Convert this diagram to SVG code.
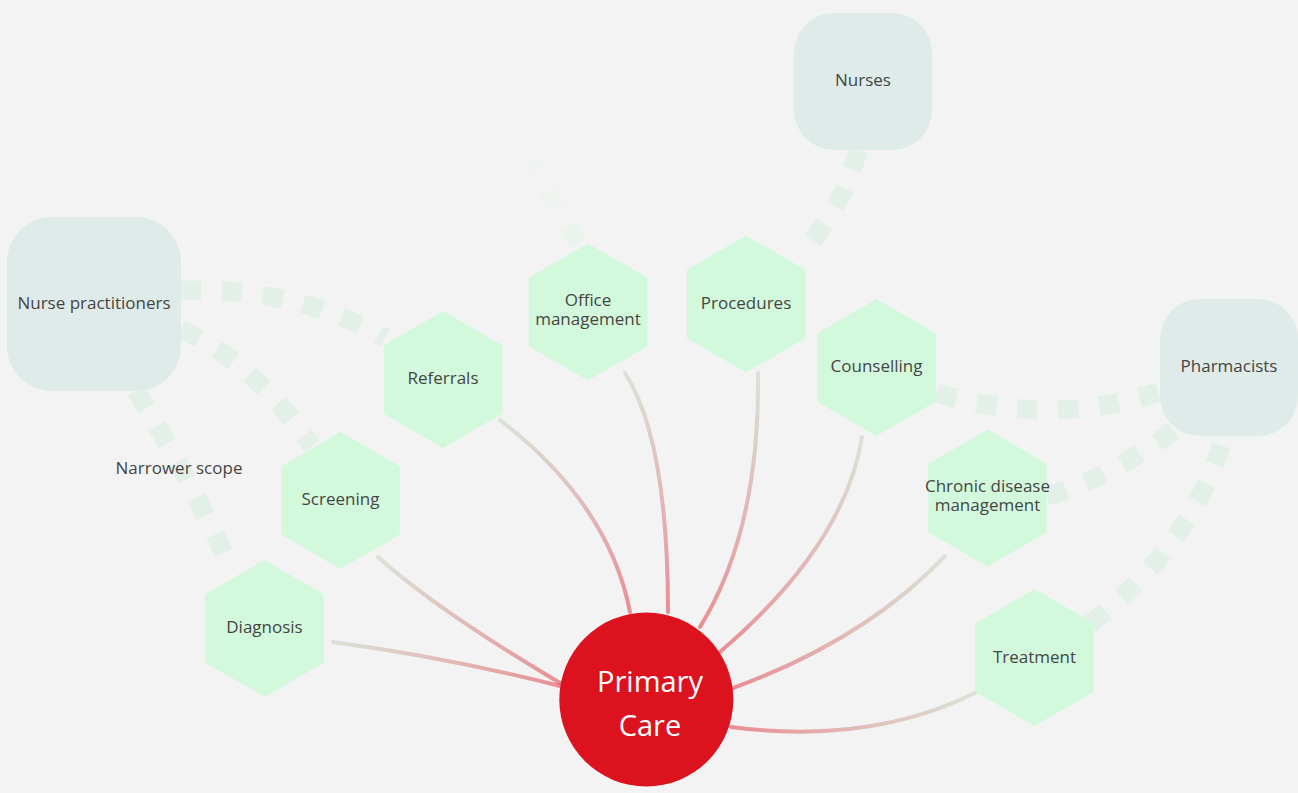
<svg xmlns="http://www.w3.org/2000/svg" width="1298" height="793" viewBox="0 0 1298 793">
<style>
.bg{fill:#f3f3f3}
.hex{fill:#d3f9dc}
.box{fill:#dfebe9}
.lbl{font-family:"Open Sans",Lato,"Liberation Sans",sans-serif;font-size:17px;fill:#454545;text-anchor:middle}
.main{font-family:"Open Sans",Lato,"Liberation Sans",sans-serif;font-size:29px;fill:#ffffff;text-anchor:middle}
.link{fill:none;stroke-width:4;stroke-linecap:round}
.dash{fill:none;stroke-width:19;stroke-dasharray:20 21}
</style>
<defs>
<polygon id="hexshape" points="0,-68.5 59.3,-34.25 59.3,34.25 0,68.5 -59.3,34.25 -59.3,-34.25"/>
<linearGradient id="gDiag" gradientUnits="userSpaceOnUse" x1="333" y1="642" x2="560" y2="686"><stop offset="0" stop-color="#b4c9ac" stop-opacity="0.4"/><stop offset="1" stop-color="#dc121f" stop-opacity="0.45"/></linearGradient>
<linearGradient id="gScr" gradientUnits="userSpaceOnUse" x1="378" y1="557" x2="560" y2="683"><stop offset="0" stop-color="#b4c9ac" stop-opacity="0.4"/><stop offset="1" stop-color="#dc121f" stop-opacity="0.45"/></linearGradient>
<linearGradient id="gRef" gradientUnits="userSpaceOnUse" x1="500" y1="420" x2="630" y2="612"><stop offset="0" stop-color="#b4c9ac" stop-opacity="0.4"/><stop offset="1" stop-color="#dc121f" stop-opacity="0.45"/></linearGradient>
<linearGradient id="gOff" gradientUnits="userSpaceOnUse" x1="625" y1="373" x2="668" y2="612"><stop offset="0" stop-color="#b4c9ac" stop-opacity="0.4"/><stop offset="1" stop-color="#dc121f" stop-opacity="0.45"/></linearGradient>
<linearGradient id="gPro" gradientUnits="userSpaceOnUse" x1="758" y1="373" x2="700" y2="627"><stop offset="0" stop-color="#b4c9ac" stop-opacity="0.4"/><stop offset="1" stop-color="#dc121f" stop-opacity="0.45"/></linearGradient>
<linearGradient id="gCou" gradientUnits="userSpaceOnUse" x1="862" y1="437" x2="720" y2="652"><stop offset="0" stop-color="#b4c9ac" stop-opacity="0.4"/><stop offset="1" stop-color="#dc121f" stop-opacity="0.45"/></linearGradient>
<linearGradient id="gChr" gradientUnits="userSpaceOnUse" x1="945" y1="556" x2="733" y2="688"><stop offset="0" stop-color="#b4c9ac" stop-opacity="0.4"/><stop offset="1" stop-color="#dc121f" stop-opacity="0.45"/></linearGradient>
<linearGradient id="gTre" gradientUnits="userSpaceOnUse" x1="975" y1="693" x2="731" y2="727"><stop offset="0" stop-color="#b4c9ac" stop-opacity="0.4"/><stop offset="1" stop-color="#dc121f" stop-opacity="0.45"/></linearGradient>
<linearGradient id="gFade" gradientUnits="userSpaceOnUse" x1="578" y1="243" x2="520" y2="140"><stop offset="0" stop-color="#d6f3dd" stop-opacity="0.3"/><stop offset="1" stop-color="#d6f3dd" stop-opacity="0"/></linearGradient>
</defs>
<rect class="bg" x="0" y="0" width="1298" height="793"/>
<g id="connectors">
<g id="dashed" stroke="#ddefe3" stroke-opacity="0.8">
<path class="dash" d="M181,290 Q300,288 385,338"/>
<path class="dash" d="M181,330 Q252,360 312,446"/>
<path class="dash" d="M136,391 Q180,460 228,562"/>
<path class="dash" d="M858,150 Q846,202 803,252"/>
<path class="dash" d="M937,393 Q1050,428 1162,391"/>
<path class="dash" d="M1047,496 Q1112,478 1182,424"/>
<path class="dash" d="M1090,624 Q1195,542 1224,436"/>
<path class="dash" d="M578,243 Q545,190 520,140" stroke="url(#gFade)" stroke-opacity="1"/>
</g>
<g id="links">
<path class="link" stroke="url(#gDiag)" d="M333,642 Q450,658 560,686"/>
<path class="link" stroke="url(#gScr)" d="M378,557 Q437,610 560,683"/>
<path class="link" stroke="url(#gRef)" d="M500,420 Q609,504 630,612"/>
<path class="link" stroke="url(#gOff)" d="M625,373 Q668,440 668,612"/>
<path class="link" stroke="url(#gPro)" d="M758,373 Q760,530 700,627"/>
<path class="link" stroke="url(#gCou)" d="M862,437 Q845,545 720,652"/>
<path class="link" stroke="url(#gChr)" d="M945,556 Q865,640 733,688"/>
<path class="link" stroke="url(#gTre)" d="M975,693 Q870,745 731,727"/>
</g>
</g>
<g id="node-nurses"><rect class="box" x="794" y="13" width="138" height="137" rx="40"/><text class="lbl" x="863" y="86">Nurses</text></g>
<g id="node-nurse-practitioners"><rect class="box" x="7" y="217" width="174" height="174" rx="45"/><text class="lbl" x="94" y="309">Nurse practitioners</text></g>
<g id="node-pharmacists"><rect class="box" x="1160" y="299" width="138" height="137" rx="40"/><text class="lbl" x="1229" y="372">Pharmacists</text></g>
<g id="node-referrals"><use href="#hexshape" class="hex" x="443" y="379.5"/><text class="lbl" x="443" y="384">Referrals</text></g>
<g id="node-office"><use href="#hexshape" class="hex" x="588" y="312"/><text class="lbl" x="588" y="306">Office</text><text class="lbl" x="588" y="325">management</text></g>
<g id="node-procedures"><use href="#hexshape" class="hex" x="746" y="304"/><text class="lbl" x="746" y="309">Procedures</text></g>
<g id="node-counselling"><use href="#hexshape" class="hex" x="876.5" y="367.5"/><text class="lbl" x="876.5" y="372">Counselling</text></g>
<g id="node-screening"><use href="#hexshape" class="hex" x="340.5" y="500.5"/><text class="lbl" x="340.5" y="505">Screening</text></g>
<g id="node-chronic"><use href="#hexshape" class="hex" x="987.5" y="498"/><text class="lbl" x="987.5" y="492">Chronic disease</text><text class="lbl" x="987.5" y="511">management</text></g>
<g id="node-diagnosis"><use href="#hexshape" class="hex" x="264.5" y="628.5"/><text class="lbl" x="264.5" y="633">Diagnosis</text></g>
<g id="node-treatment"><use href="#hexshape" class="hex" x="1034.5" y="657.5"/><text class="lbl" x="1034.5" y="663">Treatment</text></g>
<g id="label-narrower"><text class="lbl" x="179" y="474">Narrower scope</text></g>
<g id="node-primary-care"><circle cx="646.3" cy="699.5" r="87" fill="#dc121f"/><text class="main" x="650" y="692">Primary</text><text class="main" x="650" y="736">Care</text></g>
</svg>
